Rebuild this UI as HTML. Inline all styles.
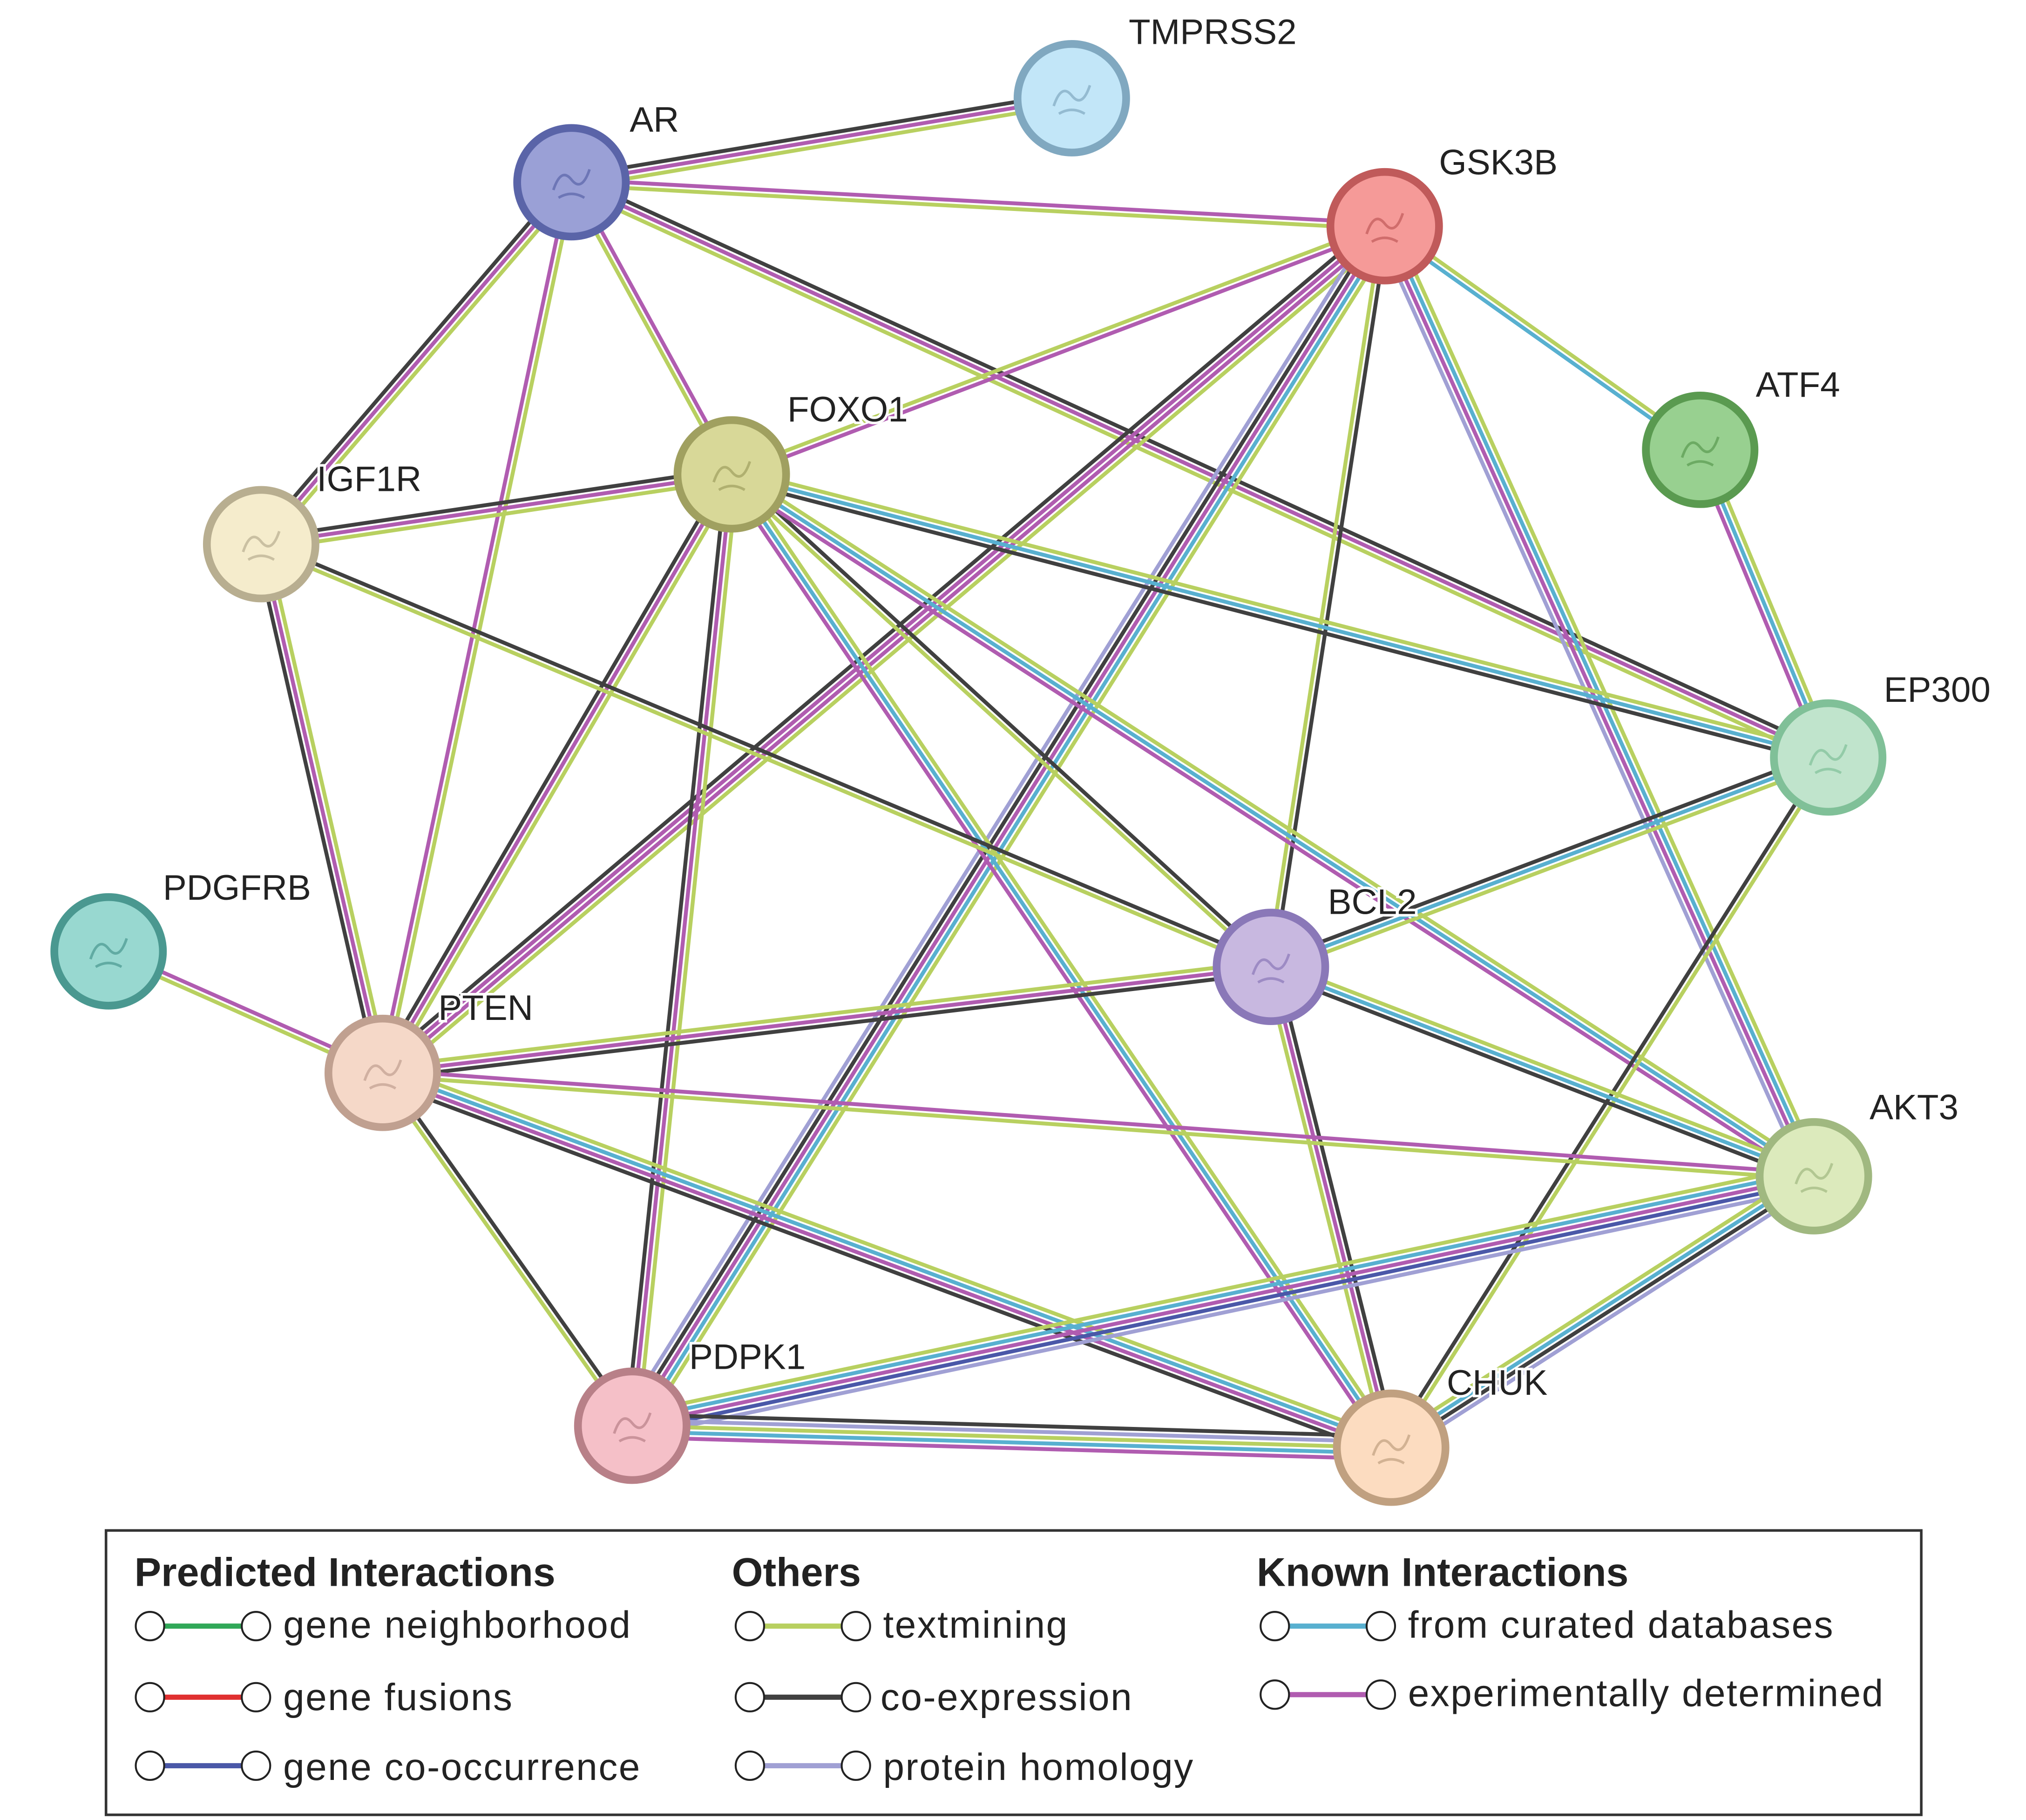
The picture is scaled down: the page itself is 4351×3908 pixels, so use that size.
<!DOCTYPE html>
<html><head><meta charset="utf-8"><style>
html,body{margin:0;padding:0;background:#fff;}
svg{display:block;}
.lb{font-family:"Liberation Sans",sans-serif;font-size:27.5px;fill:#222;paint-order:stroke;stroke:#fff;stroke-width:4px;}
.hd{font-family:"Liberation Sans",sans-serif;font-size:31px;font-weight:bold;fill:#222;}
.lt{font-family:"Liberation Sans",sans-serif;font-size:29.5px;fill:#222;letter-spacing:0.9px;}
</style></head><body>
<svg id="s" width="4351" height="3908" viewBox="0 0 1567 1408" preserveAspectRatio="none" xmlns="http://www.w3.org/2000/svg">
<rect width="1567" height="1408" fill="#fff"/>
<g id="edges"></g>
<g id="nodes"></g>
<g>
<text class="lb" x="873" y="34">TMPRSS2</text>
<text class="lb" x="487" y="102">AR</text>
<text class="lb" x="1113" y="135">GSK3B</text>
<text class="lb" x="1358" y="307">ATF4</text>
<text class="lb" x="609" y="326">FOXO1</text>
<text class="lb" x="245" y="380">IGF1R</text>
<text class="lb" x="1457" y="543">EP300</text>
<text class="lb" x="126" y="696">PDGFRB</text>
<text class="lb" x="1027" y="707">BCL2</text>
<text class="lb" x="339" y="789">PTEN</text>
<text class="lb" x="1446" y="866">AKT3</text>
<text class="lb" x="533" y="1059">PDPK1</text>
<text class="lb" x="1119" y="1079">CHUK</text>
</g>
<g>
<rect x="82" y="1184" width="1404" height="220" fill="#fff" stroke="#333" stroke-width="2"/>
<text class="hd" x="104" y="1227">Predicted Interactions</text>
<text class="hd" x="566" y="1227">Others</text>
<text class="hd" x="972" y="1227">Known Interactions</text>
<g id="leg"></g>
<text class="lt" x="219" y="1267">gene neighborhood</text>
<text class="lt" x="219" y="1323">gene fusions</text>
<text class="lt" x="219" y="1377">gene co-occurrence</text>
<text class="lt" x="683" y="1267">textmining</text>
<text class="lt" x="681" y="1323">co-expression</text>
<text class="lt" x="683" y="1377">protein homology</text>
<text class="lt" x="1089" y="1267">from curated databases</text>
<text class="lt" x="1089" y="1320">experimentally determined</text>
</g>
</svg>
<script>
var C={t:"#b8d060",c:"#404040",e:"#b05cb0",d:"#58b0d0",h:"#a0a0d4",o:"#4a58a8",n:"#30a858",f:"#e03030"};
var N={
TMPRSS2:[829,76,"#c2e6f8","#80a8c0"],AR:[442,141,"#9aa0d6","#5a64a8"],GSK3B:[1071,175,"#f59a98","#c05a5a"],
ATF4:[1315,348,"#98d090","#5a9a50"],FOXO1:[566,367,"#d8d898","#a0a060"],IGF1R:[202,421,"#f5eccc","#b8ae90"],
EP300:[1414,586,"#c0e4cc","#80c098"],PDGFRB:[84,736,"#98d8d0","#4a9890"],BCL2:[983,748,"#c8b8e0","#8a78b8"],
PTEN:[296,830,"#f5d8c8","#c0a090"],AKT3:[1403,910,"#dceabc","#a0b880"],PDPK1:[489,1103,"#f5c0c8","#b88088"],CHUK:[1076,1120,"#fcdcc0","#c0a080"]};
var E=[
["AR","TMPRSS2","cet"],["AR","GSK3B","et"],["AR","IGF1R","tec"],["AR","FOXO1","et"],["AR","PTEN","te"],["AR","EP300","cet"],
["GSK3B","FOXO1","et"],["GSK3B","PTEN","teec"],["GSK3B","PDPK1","tdech"],["GSK3B","BCL2","ct"],["GSK3B","AKT3","tdeh"],["GSK3B","ATF4","td"],
["ATF4","EP300","tde"],["FOXO1","IGF1R","tec"],["FOXO1","EP300","tdc"],["FOXO1","PTEN","tec"],["FOXO1","PDPK1","tec"],["FOXO1","BCL2","ct"],
["FOXO1","AKT3","tde"],["FOXO1","CHUK","tde"],["IGF1R","PTEN","tec"],["IGF1R","BCL2","ct"],["PDGFRB","PTEN","et"],["EP300","BCL2","tdc"],
["EP300","CHUK","tc"],["BCL2","PTEN","cet"],["BCL2","AKT3","tdc"],["BCL2","CHUK","cet"],["PTEN","AKT3","et"],["PTEN","PDPK1","ct"],
["PTEN","CHUK","tdec"],["AKT3","PDPK1","hoedt"],["AKT3","CHUK","hcdt"],["PDPK1","CHUK","chtde"]];
var g=document.getElementById("edges"),h="";
E.forEach(function(x){var a=N[x[0]],b=N[x[1]],dx=b[0]-a[0],dy=b[1]-a[1],L=Math.hypot(dx,dy),px=-dy/L,py=dx/L,k=x[2].length,sp=4.4;
for(var i=0;i<k;i++){var o=(i-(k-1)/2)*sp;h+='<line x1="'+(a[0]+px*o)+'" y1="'+(a[1]+py*o)+'" x2="'+(b[0]+px*o)+'" y2="'+(b[1]+py*o)+'" stroke="'+C[x[2][i]]+'" stroke-width="3"/>';}});
g.innerHTML=h;h="";
for(var n in N){var v=N[n];h+='<circle cx="'+v[0]+'" cy="'+v[1]+'" r="42" fill="'+v[2]+'" stroke="'+v[3]+'" stroke-width="6"/>';
h+='<path d="M'+(v[0]-14)+' '+(v[1]+6)+' q6 -18 14 -8 q8 10 14 -8 M'+(v[0]-10)+' '+(v[1]+12)+' q10 -6 20 0" fill="none" stroke="'+v[3]+'" stroke-width="2" opacity="0.7"/>';}
document.getElementById("nodes").innerHTML=h;h="";
[[116,1258,"n"],[116,1313,"f"],[116,1366,"o"],[580,1258,"t"],[580,1313,"c"],[580,1366,"h"],[986,1258,"d"],[986,1311,"e"]].forEach(function(r){
h+='<line x1="'+r[0]+'" y1="'+r[1]+'" x2="'+(r[0]+82)+'" y2="'+r[1]+'" stroke="'+C[r[2]]+'" stroke-width="4"/>';
h+='<circle cx="'+r[0]+'" cy="'+r[1]+'" r="11" fill="#fff" stroke="#222" stroke-width="1.5"/><circle cx="'+(r[0]+82)+'" cy="'+r[1]+'" r="11" fill="#fff" stroke="#222" stroke-width="1.5"/>';});
document.getElementById("leg").innerHTML=h;
</script>
</body></html>
